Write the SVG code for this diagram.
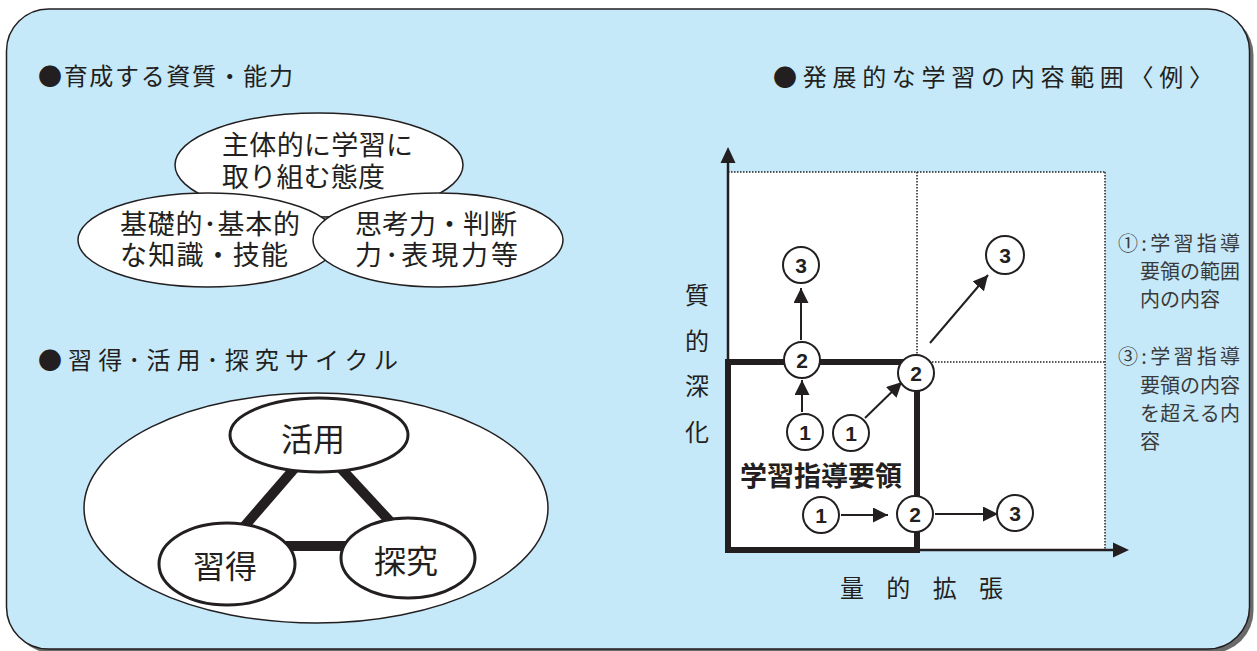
<svg xmlns="http://www.w3.org/2000/svg" width="1257" height="651" viewBox="0 0 1257 651">
<style>
text{font-family:"Noto Sans CJK JP","Noto Sans",sans-serif;fill:#231f20}
.title{font-size:24px}
.el{fill:#fff;stroke:#231f20;stroke-width:1.5}
.cyc{fill:#fff;stroke:#231f20;stroke-width:3}
.t27{font-size:27px;font-family:"Liberation Sans","Noto Sans CJK JP",sans-serif}
.t32{font-size:32px}
.leg{font-size:20px;fill:#3a3a3a}
.num{fill:#fff;stroke:#231f20;stroke-width:2}
.numt{font-family:"Liberation Sans",Arial,sans-serif;font-weight:bold;font-size:21px;text-anchor:middle}
.dot{stroke:#231f20;stroke-width:1.5;stroke-dasharray:1.5 1.5;fill:none}
.arr{stroke:#231f20;stroke-width:2;fill:none;marker-end:url(#ah)}
.bar{stroke:#231f20;stroke-width:10;stroke-linecap:butt}
</style>
<defs>
<marker id="ah" markerWidth="15" markerHeight="15" refX="15" refY="7.5" orient="auto" markerUnits="userSpaceOnUse">
<path d="M0,0 L15,7.5 L0,15 z" fill="#231f20"/>
</marker>
</defs>
<g id="frame">
<rect x="10.5" y="13" width="1243" height="640" rx="42" fill="#6a6a6a"/>
<rect x="6.5" y="9" width="1243" height="640" rx="42" fill="#c6e9fa" stroke="#231f20" stroke-width="1.5"/>
</g>
<g id="titles">
<text class="title" x="38" y="85" textLength="255" lengthAdjust="spacing">●育成する資質・能力</text>
<text class="title" x="38" y="369" textLength="360" lengthAdjust="spacing">●習得･活用･探究サイクル</text>
<text class="title" x="773" y="86" textLength="440" lengthAdjust="spacing">●発展的な学習の内容範囲〈例〉</text>
</g>
<g id="node-attitude">
<ellipse class="el" cx="319" cy="165" rx="144" ry="52"/>
<text class="t27"><tspan x="222" y="155" textLength="191" lengthAdjust="spacing">主体的に学習に</tspan><tspan x="222" y="187" textLength="163" lengthAdjust="spacing">取り組む態度</tspan></text>
</g>
<g id="node-knowledge">
<ellipse class="el" cx="208" cy="240" rx="130" ry="47"/>
<text class="t27"><tspan x="120" y="234" textLength="180" lengthAdjust="spacing">基礎的･基本的</tspan><tspan x="120" y="265" textLength="168" lengthAdjust="spacing">な知識・技能</tspan></text>
</g>
<g id="node-thinking">
<ellipse class="el" cx="438" cy="240" rx="125" ry="47"/>
<text class="t27"><tspan x="355" y="234" textLength="162" lengthAdjust="spacing">思考力・判断</tspan><tspan x="355" y="265" textLength="163" lengthAdjust="spacing">力･表現力等</tspan></text>
</g>
<g id="node-cycle">
<ellipse class="el" cx="316" cy="508" rx="232" ry="115"/>
</g>
<g id="cycle-connectors">
<line class="bar" x1="300" y1="462" x2="236" y2="536"/>
<line class="bar" x1="335" y1="462" x2="398" y2="530"/>
<line class="bar" x1="270" y1="546" x2="362" y2="546"/>
</g>
<g id="node-katsuyou">
<ellipse class="cyc" cx="319" cy="435" rx="89" ry="37"/>
<text class="t32" x="313" y="451" text-anchor="middle">活用</text>
</g>
<g id="node-shutoku">
<ellipse class="cyc" cx="227" cy="564" rx="68" ry="41"/>
<text class="t32" x="225" y="578" text-anchor="middle">習得</text>
</g>
<g id="node-tankyu">
<ellipse class="cyc" cx="408" cy="558" rx="67" ry="40"/>
<text class="t32" x="406" y="573" text-anchor="middle">探究</text>
</g>
<g id="chart">
<rect x="728" y="172" width="377" height="378" fill="#fff"/>
<line class="dot" x1="728" y1="172" x2="1105" y2="172"/>
<line class="dot" x1="1105" y1="172" x2="1105" y2="550"/>
<line class="dot" x1="917" y1="172" x2="917" y2="362"/>
<line class="dot" x1="917" y1="362" x2="1105" y2="362"/>
<line x1="728" y1="550" x2="728" y2="160" stroke="#231f20" stroke-width="2.5"/>
<path d="M728,147 L735.5,163 L720.5,163 z" fill="#231f20"/>
<line x1="728" y1="550" x2="1114" y2="550" stroke="#231f20" stroke-width="2.5"/>
<path d="M1129,550 L1113,542.5 L1113,557.5 z" fill="#231f20"/>
<rect x="728" y="362" width="189" height="188" fill="none" stroke="#231f20" stroke-width="6"/>
<text x="821" y="486" font-size="27" font-weight="bold" text-anchor="middle">学習指導要領</text>
<text x="840" y="597" font-size="24" textLength="163" lengthAdjust="spacing">量的拡張</text>
<text x="697" y="304" font-size="24" text-anchor="middle">質</text>
<text x="697" y="350" font-size="24" text-anchor="middle">的</text>
<text x="697" y="395" font-size="24" text-anchor="middle">深</text>
<text x="697" y="441" font-size="24" text-anchor="middle">化</text>
</g>
<g id="connectors">
<line class="arr" x1="801" y1="340" x2="801" y2="288"/>
<line class="arr" x1="930" y1="343" x2="988" y2="275"/>
<line class="arr" x1="802" y1="412" x2="802" y2="380"/>
<line class="arr" x1="865" y1="418" x2="902" y2="382"/>
<line class="arr" x1="841" y1="515" x2="888" y2="515"/>
<line class="arr" x1="935" y1="514" x2="998" y2="514"/>
</g>
<g id="n3a"><circle class="num" cx="801" cy="265" r="18"/><text class="numt" x="801" y="273">3</text></g>
<g id="n3b"><circle class="num" cx="1005" cy="255" r="19"/><text class="numt" x="1005" y="263">3</text></g>
<g id="n2a"><circle class="num" cx="802" cy="360" r="18"/><text class="numt" x="802" y="368">2</text></g>
<g id="n2b"><circle class="num" cx="916" cy="373" r="18"/><text class="numt" x="916" y="381">2</text></g>
<g id="n1a"><circle class="num" cx="805" cy="432" r="18"/><text class="numt" x="805" y="440">1</text></g>
<g id="n1b"><circle class="num" cx="851" cy="433" r="18"/><text class="numt" x="851" y="441">1</text></g>
<g id="n1c"><circle class="num" cx="821" cy="515" r="18"/><text class="numt" x="821" y="523">1</text></g>
<g id="n2c"><circle class="num" cx="915" cy="514" r="18"/><text class="numt" x="915" y="522">2</text></g>
<g id="n3c"><circle class="num" cx="1015" cy="513" r="18"/><text class="numt" x="1015" y="521">3</text></g>
<g id="legend">
<text class="leg"><tspan x="1118" y="251" textLength="122" lengthAdjust="spacing">①:学習指導</tspan><tspan x="1140" y="279" textLength="100" lengthAdjust="spacing">要領の範囲</tspan><tspan x="1140" y="307">内の内容</tspan></text>
<text class="leg"><tspan x="1118" y="364" textLength="122" lengthAdjust="spacing">③:学習指導</tspan><tspan x="1140" y="393" textLength="100" lengthAdjust="spacing">要領の内容</tspan><tspan x="1140" y="421" textLength="100" lengthAdjust="spacing">を超える内</tspan><tspan x="1140" y="449">容</tspan></text>
</g>
</svg>
